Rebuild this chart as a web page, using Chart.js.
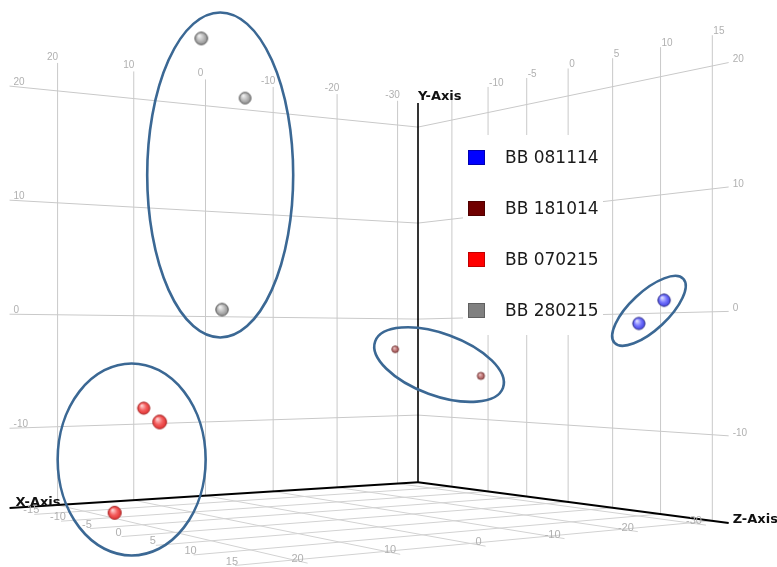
<!DOCTYPE html>
<html><head><meta charset="utf-8">
<script src="https://cdn.jsdelivr.net/npm/chart.js@4.4.1/dist/chart.umd.min.js"></script>
<style>html,body{margin:0;padding:0;background:#fff;overflow:hidden}canvas{display:block}</style>
</head><body>
<canvas id="c" width="777" height="567"></canvas>
<script>
// ---------------- data (X, Y, Z) ----------------
const seriesNames = ["BB 081114", "BB 181014", "BB 070215", "BB 280215"];
const bb081114 = [[-30.9, 1.0, 12], [-30.1, -0.9, 10]];
const bb181014 = [[-18.6, -3.1, -10], [-19.9, -5.4, 0]];
const bb070215 = [[16.1, -8.0, -10], [23.3, -8.4, 2], [23.2, -15.9, -5]];
const bb280215 = [[21.1, 19.6, 5], [11.8, 16.7, 0], [18.8, -0.1, 5]];
const seriesData = [bb081114, bb181014, bb070215, bb280215];

// ---------------- axes ----------------
const xTicks = [20, 10, 0, -10, -20, -30];
const yTicks = [20, 10, 0, -10];
const zTicks = [-15, -10, -5, 0, 5, 10, 15];
const zTopLabels = [-10, -5, 0, 5, 10, 15];
const xRange = [-33.5, 26];
const yRange = [-17, 22.5];
const zRange = [-20, 16.5];
const axisTitles = ["X-Axis", "Y-Axis", "Z-Axis"];

// ---------------- styles / layout ----------------
const cam = { ox: 418, kx: -6.89, kz: 3.95, dx: 0.00266, dz: 0.00626, hy: 345, ky: 9.6, eye: -2.7 };
const seriesStyle = [
  { legend: '#0000ff', legendEdge: '#0000b0', hi: '#e4e4ff', mid: '#7878ff', lo: '#4040e0', edge: '#30308a', base: 4.9 },
  { legend: '#700000', legendEdge: '#500000', hi: '#f0d0d0', mid: '#c47c7c', lo: '#a05656', edge: '#7a3c3c', base: 3.0 },
  { legend: '#ff0000', legendEdge: '#c00000', hi: '#ffd8d8', mid: '#f46060', lo: '#e03030', edge: '#a82828', base: 4.9 },
  { legend: '#808080', legendEdge: '#606060', hi: '#f4f4f4', mid: '#bcbcbc', lo: '#8c8c8c', edge: '#5c5c5c', base: 4.4 }
];
const ellipseStyle = [
  { rx: 47, ry: 19, rot: -43, dx: -2.5, dy: -1 },
  { rx: 68, ry: 31, rot: 20, dx: 1, dy: 2 },
  { rx: 74, ry: 96, rot: 0, dx: -5.5, dy: -1 },
  { rx: 73, ry: 162.5, rot: 0, dx: -3, dy: 1 }
];
const gridColor = '#c9c9c9';
const floorColor = '#d2d2d2';
const tickColor = '#b0b0b0';

function proj(X, Y, Z) {
  const u = X - xRange[0], v = Z - zRange[0];
  const w = 1 - cam.dx * u - cam.dz * v;
  return { x: (cam.ox + cam.kx * u + cam.kz * v) / w, y: cam.hy - cam.ky * (Y - cam.eye) / w, w: w };
}

const sphereCache = {};
function sphere(st, r) {
  const key = st.mid + '_' + r.toFixed(1);
  if (sphereCache[key]) return sphereCache[key];
  const s = Math.ceil(r * 2 + 3);
  const c = document.createElement('canvas');
  c.width = c.height = s;
  const g = c.getContext('2d');
  const cx = s / 2, cy = s / 2;
  const grad = g.createRadialGradient(cx - r * 0.35, cy - r * 0.45, r * 0.05, cx, cy, r);
  grad.addColorStop(0, st.hi);
  grad.addColorStop(0.55, st.mid);
  grad.addColorStop(1, st.lo);
  g.fillStyle = grad;
  g.beginPath(); g.arc(cx, cy, r, 0, Math.PI * 2); g.fill();
  g.strokeStyle = st.edge; g.lineWidth = 1; g.stroke();
  sphereCache[key] = c;
  return c;
}

// ---------------- datasets ----------------
const datasets = [];
seriesData.forEach((pts, i) => {
  const st = seriesStyle[i];
  datasets.push({
    label: seriesNames[i],
    data: pts.map(p => { const q = proj(p[0], p[1], p[2]); return { x: q.x, y: q.y, w: q.w }; }),
    pointRadius: 6,
    pointStyle: (ctx) => sphere(st, st.base / (ctx.raw ? ctx.raw.w : 1)),
    showLine: false
  });
});
function seg(a, b, color, width) {
  const p = proj(a[0], a[1], a[2]), q = proj(b[0], b[1], b[2]);
  datasets.push({
    data: [{ x: p.x, y: p.y }, { x: q.x, y: q.y }],
    showLine: true, borderColor: color, borderWidth: width, pointRadius: 0, pointHoverRadius: 0,
    tension: 0, fill: false
  });
}
const [x0, x1] = xRange, [y0, y1] = yRange, [z0, z1] = zRange;
// axis lines
seg([x0, y0, z0], [x0, y1, z0], '#000', 1.6);
seg([x0, y0, z0], [x1, y0, z0], '#000', 2);
seg([x0, y0, z0], [x0, y0, z1], '#000', 2);
// left wall (Z = min)
xTicks.forEach(X => seg([X, y0, z0], [X, y1, z0], gridColor, 1));
yTicks.forEach(Y => seg([x0, Y, z0], [x1, Y, z0], gridColor, 1));
// right wall (X = min)
zTicks.forEach(Z => seg([x0, y0, Z], [x0, y1, Z], gridColor, 1));
yTicks.forEach(Y => seg([x0, Y, z0], [x0, Y, z1], gridColor, 1));
// floor (Y = min)
xTicks.forEach(X => seg([X, y0, z0], [X, y0, z1], floorColor, 1));
zTicks.forEach(Z => seg([x0, y0, Z], [x1, y0, Z], floorColor, 1));

// ---------------- plugins ----------------
function px(chart, p) {
  return { x: chart.scales.x.getPixelForValue(p.x), y: chart.scales.y.getPixelForValue(p.y) };
}
const legendPlugin = {
  id: 'boxLegend',
  beforeDatasetDraw(chart, args) {
    if (args.index !== seriesData.length - 1) return;
    const ctx = chart.ctx;
    ctx.save();
    ctx.fillStyle = '#fff';
    ctx.fillRect(463, 135, 140, 200);
    ctx.font = '17px "DejaVu Sans"';
    ctx.textBaseline = 'middle';
    ctx.textAlign = 'left';
    seriesNames.forEach((n, i) => {
      const cy = 157.5 + i * 51;
      ctx.fillStyle = seriesStyle[i].legend;
      ctx.fillRect(468, cy - 7.5, 17, 15);
      ctx.strokeStyle = seriesStyle[i].legendEdge;
      ctx.lineWidth = 1;
      ctx.strokeRect(468.5, cy - 7, 16, 14);
      ctx.fillStyle = '#1a1a1a';
      ctx.fillText(n, 505, cy + 1);
    });
    ctx.restore();
  }
};
const labelPlugin = {
  id: 'labels3d',
  afterDatasetsDraw(chart) {
    const ctx = chart.ctx;
    ctx.save();
    ctx.font = '10px "Liberation Sans"';
    ctx.fillStyle = tickColor;
    // left wall top: X ticks
    ctx.textAlign = 'center'; ctx.textBaseline = 'bottom';
    xTicks.forEach(X => { const p = px(chart, proj(X, y1, z0)); ctx.fillText(String(X), p.x - 5, p.y - 1); });
    // right wall top: Z ticks
    ctx.textAlign = 'left';
    zTopLabels.forEach(Z => { const p = px(chart, proj(x0, y1, Z)); ctx.fillText(String(Z), p.x + 1, p.y + 1); });
    // left wall edge: Y ticks
    yTicks.forEach(Y => { const p = px(chart, proj(x1, Y, z0)); ctx.fillText(String(Y), p.x + 4, p.y + 1); });
    // right wall edge: Y ticks
    ctx.textBaseline = 'middle';
    yTicks.forEach(Y => { const p = px(chart, proj(x0, Y, z1)); ctx.fillText(String(Y), p.x + 4, p.y - 3); });
    // floor front-left: Z ticks
    ctx.font = '11px "Liberation Sans"';
    ctx.textAlign = 'center';
    zTicks.forEach(Z => { const p = px(chart, proj(x1, y0, Z)); ctx.fillText(String(Z), p.x - 3, p.y - 4); });
    // floor front-right: X ticks
    ctx.textAlign = 'right';
    xTicks.forEach(X => { const p = px(chart, proj(X, y0, z1)); ctx.fillText(String(X), p.x - 4, p.y - 4); });
    // axis titles
    ctx.fillStyle = '#111';
    ctx.font = 'bold 13px "DejaVu Sans"';
    ctx.textAlign = 'left'; ctx.textBaseline = 'alphabetic';
    let p = px(chart, proj(x1, y0, z0)); ctx.fillText(axisTitles[0], p.x + 6, p.y - 2);
    p = px(chart, proj(x0, y1, z0)); ctx.fillText(axisTitles[1], p.x, p.y - 3);
    p = px(chart, proj(x0, y0, z1)); ctx.fillText(axisTitles[2], p.x + 4, p.y);
    // cluster ellipses
    ctx.strokeStyle = '#3b6894';
    ctx.lineWidth = 2.6;
    chart.data.datasets.slice(0, seriesData.length).forEach((ds, i) => {
      const pts = ds.data.map(d => px(chart, d));
      const xs = pts.map(q => q.x), ys = pts.map(q => q.y);
      const cx = (Math.min(...xs) + Math.max(...xs)) / 2 + ellipseStyle[i].dx;
      const cy = (Math.min(...ys) + Math.max(...ys)) / 2 + ellipseStyle[i].dy;
      ctx.beginPath();
      ctx.ellipse(cx, cy, ellipseStyle[i].rx, ellipseStyle[i].ry, ellipseStyle[i].rot * Math.PI / 180, 0, Math.PI * 2);
      ctx.stroke();
    });
    ctx.restore();
  }
};

new Chart(document.getElementById('c'), {
  type: 'scatter',
  data: { datasets: datasets },
  options: {
    responsive: false,
    animation: false,
    devicePixelRatio: 1,
    events: [],
    layout: { padding: 0, autoPadding: false },
    plugins: { legend: { display: false }, tooltip: { enabled: false } },
    scales: {
      x: { type: 'linear', min: 0, max: 777, display: false },
      y: { type: 'linear', min: 0, max: 567, reverse: true, display: false }
    }
  },
  plugins: [legendPlugin, labelPlugin]
});
</script>
</body></html>
